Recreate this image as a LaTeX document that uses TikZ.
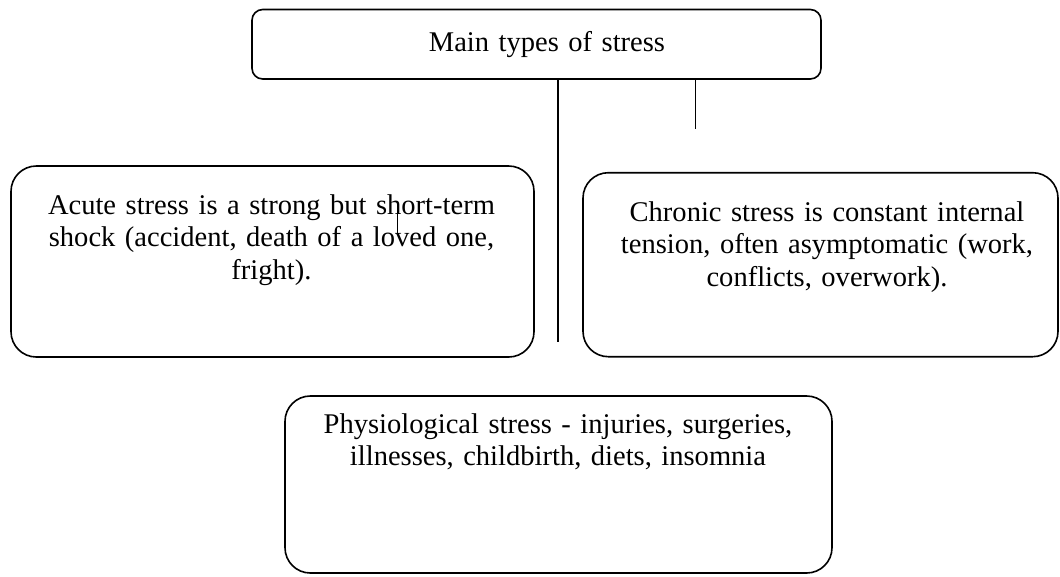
\documentclass[tikz,border=0pt]{standalone}
\usepackage{fontspec}
\setmainfont{Liberation Serif}
\begin{document}
\begin{tikzpicture}[x={(0.75pt,0)}, y={(0,-0.75pt)},
  bigbox/.style={draw=black, line width=1.2pt, rounded corners=19pt, inner sep=0pt},
  topbox/.style={draw=black, line width=1.2pt, rounded corners=8pt, inner sep=0pt},
  conn/.style={draw=black, line width=1.2pt},
  label/.style={anchor=base, align=center, inner sep=0pt,
    font=\fontsize{21.4pt}{24.6pt}\selectfont}]
\fill[white] (0,0) rectangle (1060,576);
\useasboundingbox (0,0) rectangle (1060,576);
% boxes
\node[topbox, minimum width=426.75pt, minimum height=52.1pt] (top) at (536.5,44.25) {};
\node[bigbox, minimum width=392.25pt, minimum height=143.25pt] (acute) at (272.5,261.5) {};
\node[bigbox, minimum width=356.25pt, minimum height=138pt] (chronic) at (820.5,264.7) {};
\node[bigbox, minimum width=410.25pt, minimum height=132.75pt] (physio) at (558.5,484.5) {};
% texts
\node[label, text width=330pt] (toptext) at (547,51.5) {Main types of stress};
\node[label, text width=375pt] (acutetext) at (271.5,214) {Acute stress is a strong but short-term\\ shock (accident, death of a loved one,\\ fright).};
\node[label, text width=337pt] (chronictext) at (827,221) {Chronic stress is constant internal\\ tension, often asymptomatic (work,\\ conflicts, overwork).};
\node[label, text width=375pt] (physiotext) at (558,433) {Physiological stress - injuries, surgeries,\\ illnesses, childbirth, diets, insomnia};
% connectors
\coordinate (mainEnd) at (558,342);
\coordinate (shortEnd) at (695.5,129);
\coordinate (strayTop) at (397.7,203);
\coordinate (strayBot) at (397.7,234);
\draw[conn] (mainEnd |- top.south) -- (mainEnd);
\draw[conn] (shortEnd |- top.south) -- (shortEnd);
\draw[conn, line width=1pt] (strayTop) -- (strayBot);
\end{tikzpicture}
\end{document}
